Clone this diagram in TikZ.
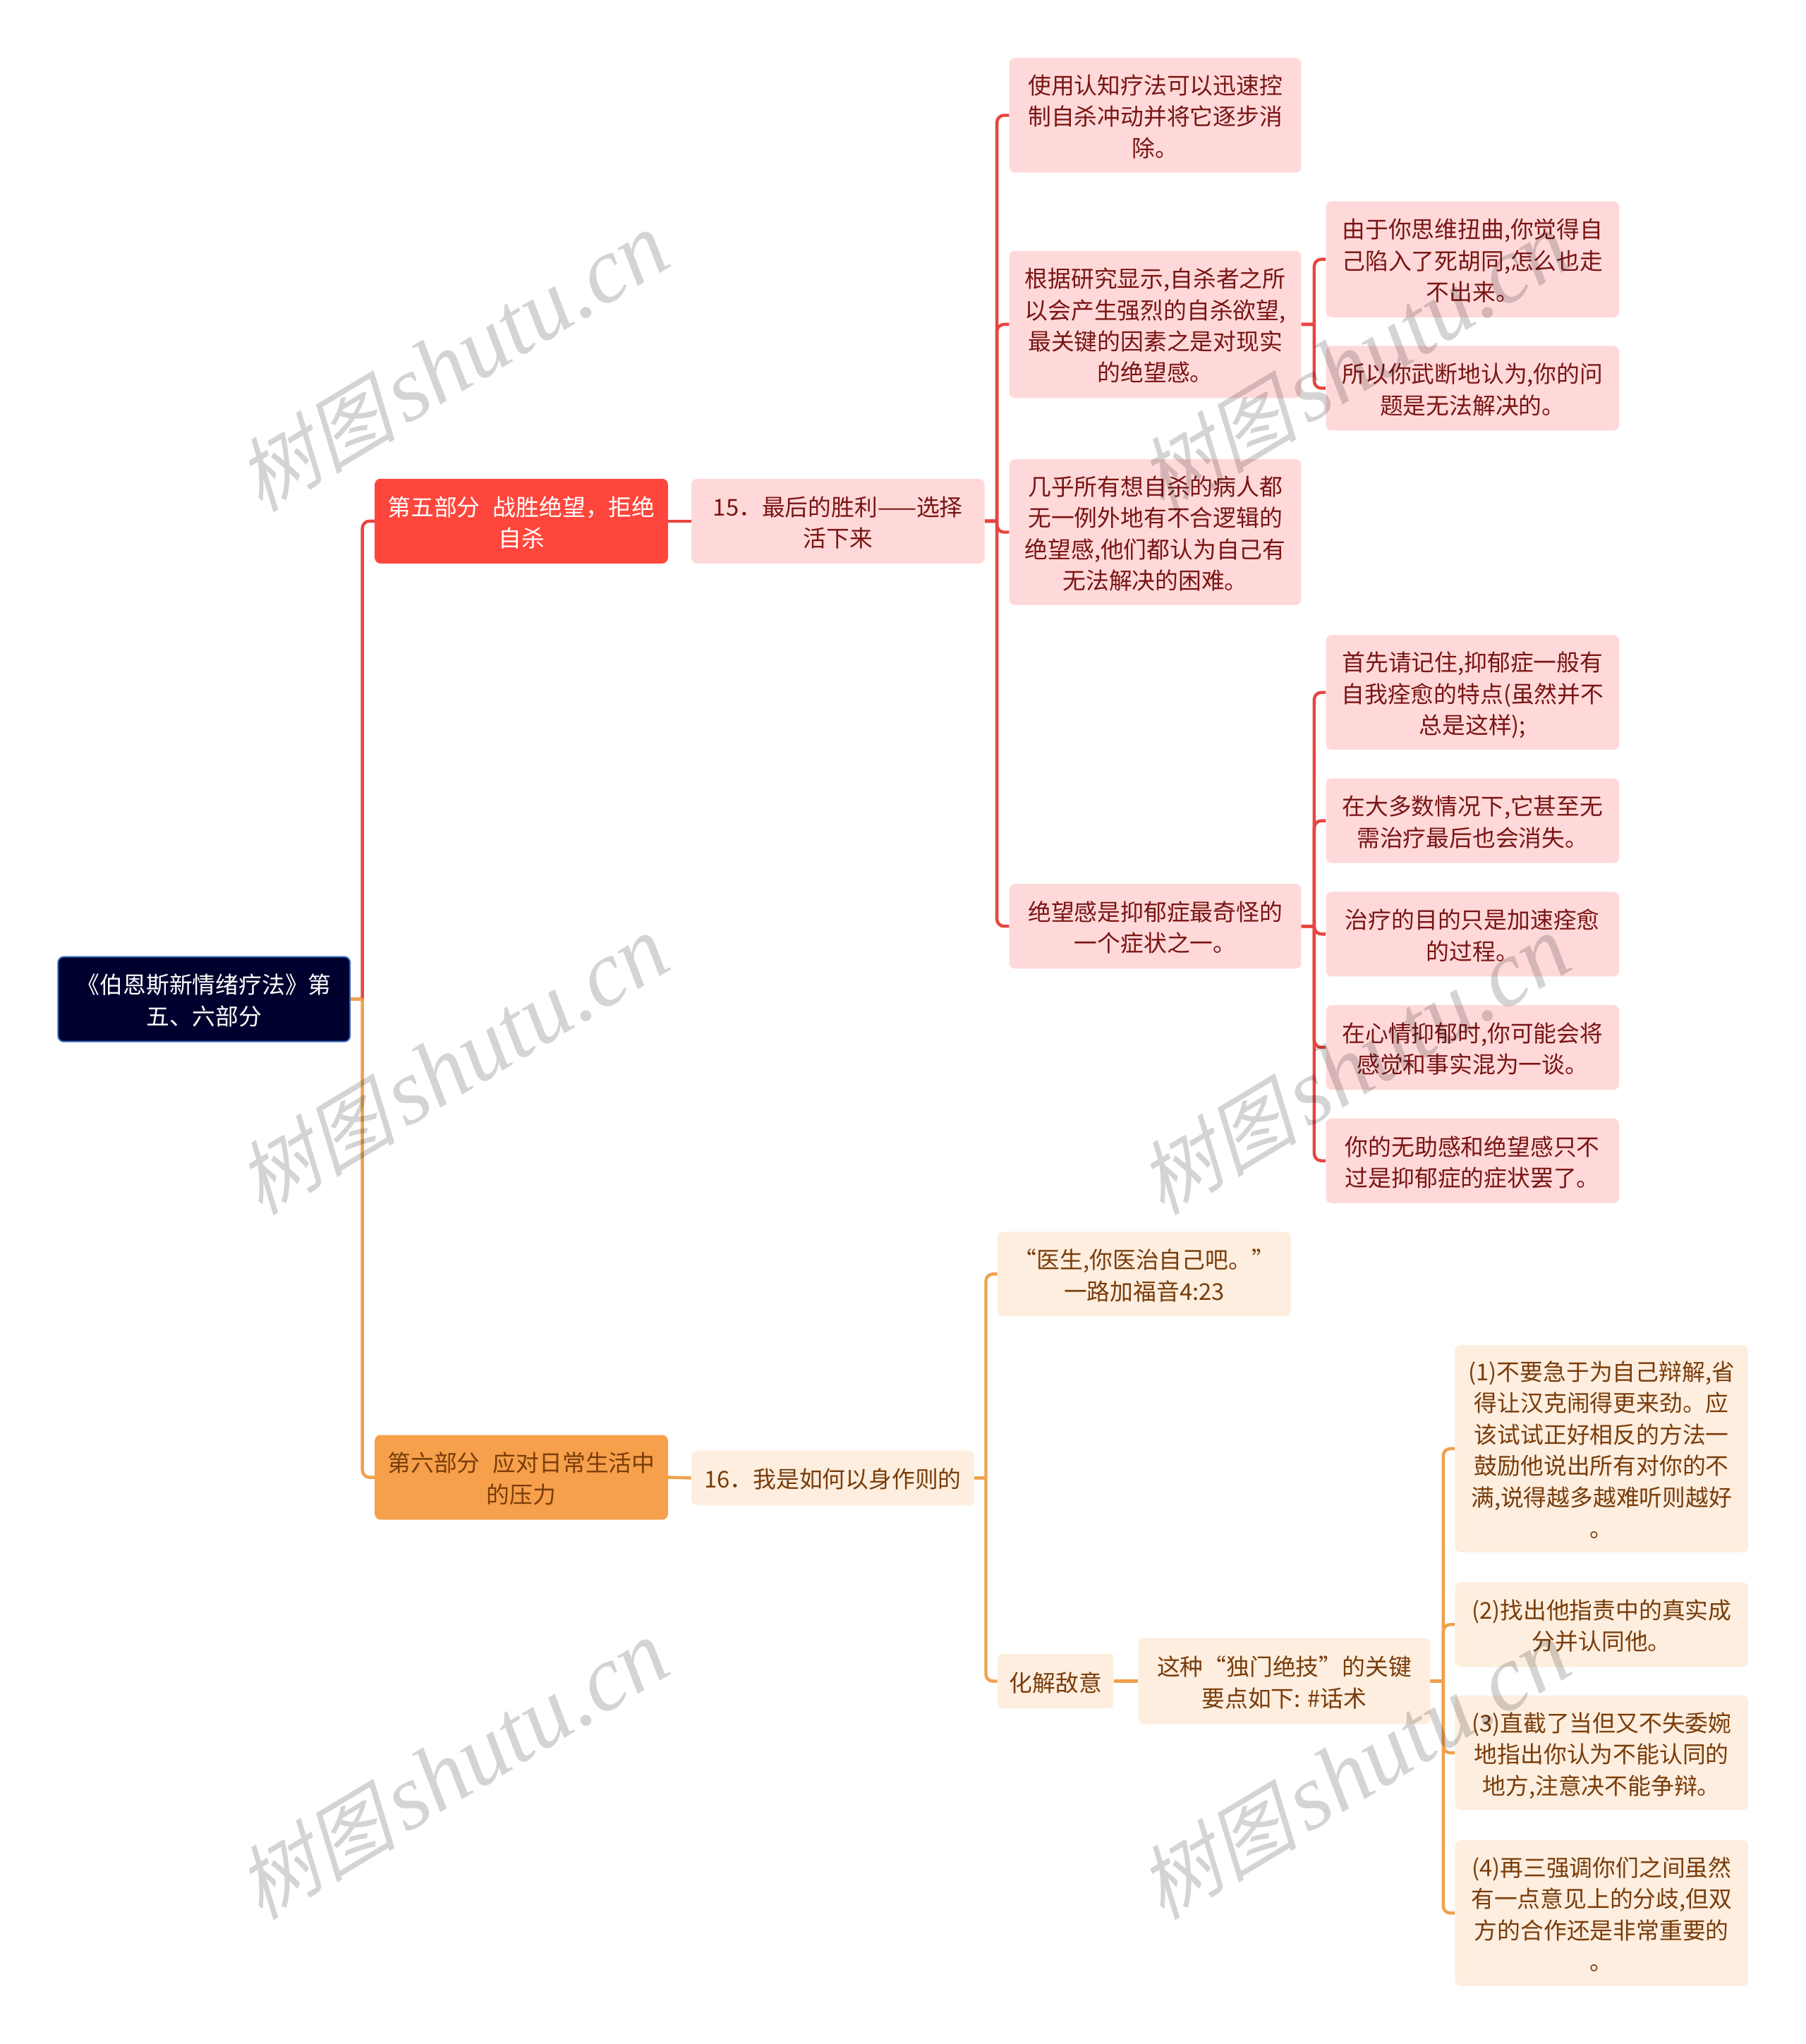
\documentclass[tikz,border=0pt]{standalone}
\usepackage{fontspec}
\setmainfont{Noto Sans CJK SC}
\newfontfamily\wmfont[FakeSlant=0.25]{Noto Sans CJK SC}
\newfontfamily\wmlatin{Liberation Serif}
\usetikzlibrary{calc}
\definecolor{lred}{HTML}{E8453F}
\definecolor{lorg}{HTML}{F0A04E}
\definecolor{fred}{HTML}{FFD9D9}
\definecolor{ford}{HTML}{FDEEDF}
\definecolor{tred}{HTML}{7A1414}
\definecolor{tord}{HTML}{7A3C0A}
\definecolor{froot}{HTML}{00002E}
\definecolor{droot}{HTML}{2F66B8}
\definecolor{fhr}{HTML}{FF463C}
\definecolor{fho}{HTML}{F6A04B}
\tikzset{
  x=0.92355pt,y=-0.92355pt,
  boxbase/.style={rounded corners=4pt,inner sep=0pt,font=\fontsize{16.4pt}{22.2pt}\selectfont},
  rootbox/.style={boxbase,fill=froot,draw=droot,line width=1pt,text=white},
  redhead/.style={boxbase,fill=fhr,text=white},
  orghead/.style={boxbase,fill=fho,text=tord},
  redbox/.style={boxbase,fill=fred,text=tred},
  orgbox/.style={boxbase,fill=ford,text=tord},
  redline/.style={draw=lred,line width=2.2pt,rounded corners=5pt},
  orgline/.style={draw=lorg,line width=2.2pt,rounded corners=5pt},
  watermark/.style={text=black,opacity=0.17,rotate=31,inner sep=0pt},
}
\newcommand\bx[7]{\node[#6,minimum width={(#3-#2)*0.92355pt},minimum height={(#5-#4)*0.92355pt}] (#1) at ({(#2+#3)/2},{(#4+#5)/2}) {\begin{tabular}{@{}c@{}}\noalign{\vskip 5.6pt}#7\end{tabular}};}
\begin{document}
\begin{tikzpicture}
\useasboundingbox (0,0) rectangle (1386,1569);
\fill[white] (0,0) rectangle (1386,1569);
\begin{scope}[shift={(0.6,0.5)}]
\bx{root}{44}{268}{734}{799}{rootbox}{《伯恩斯新情绪疗法》第\\五、六部分}
\bx{p5}{287}{512}{367}{432}{redhead}{第五部分\hspace{9.2pt}战胜绝望，拒绝\\自杀}
\bx{p6}{287}{512}{1101}{1166}{orghead}{第六部分\hspace{9.2pt}应对日常生活中\\的压力}
\bx{n15}{530}{755}{367}{432}{redbox}{15．最后的胜利——选择\\活下来}
\bx{n16}{530}{747}{1113}{1155}{orgbox}{16．我是如何以身作则的}
\bx{a1}{774}{998}{44}{132}{redbox}{使用认知疗法可以迅速控\\制自杀冲动并将它逐步消\\除。}
\bx{a2}{774}{998}{192}{305}{redbox}{根据研究显示,自杀者之所\\以会产生强烈的自杀欲望,\\最关键的因素之是对现实\\的绝望感。}
\bx{a3}{774}{998}{352}{464}{redbox}{几乎所有想自杀的病人都\\无一例外地有不合逻辑的\\绝望感,他们都认为自己有\\无法解决的困难。}
\bx{a4}{774}{998}{678}{743}{redbox}{绝望感是抑郁症最奇怪的\\一个症状之一。}
\bx{b1}{1017}{1242}{154}{243}{redbox}{由于你思维扭曲,你觉得自\\己陷入了死胡同,怎么也走\\不出来。}
\bx{b2}{1017}{1242}{265}{330}{redbox}{所以你武断地认为,你的问\\题是无法解决的。}
\bx{c1}{1017}{1242}{487}{575}{redbox}{首先请记住,抑郁症一般有\\自我痊愈的特点(虽然并不\\总是这样);}
\bx{c2}{1017}{1242}{597}{662}{redbox}{在大多数情况下,它甚至无\\需治疗最后也会消失。}
\bx{c3}{1017}{1242}{684}{749}{redbox}{治疗的目的只是加速痊愈\\的过程。}
\bx{c4}{1017}{1242}{771}{836}{redbox}{在心情抑郁时,你可能会将\\感觉和事实混为一谈。}
\bx{c5}{1017}{1242}{858}{923}{redbox}{你的无助感和绝望感只不\\过是抑郁症的症状罢了。}
\bx{d1}{765}{990}{945}{1010}{orgbox}{“医生,你医治自己吧。”\\一路加福音4:23}
\bx{d2}{765}{854}{1269}{1311}{orgbox}{化解敌意}
\bx{d3}{873}{1097}{1257}{1323}{orgbox}{这种“独门绝技”的关键\\要点如下: \#话术}
\bx{e1}{1116}{1341}{1032}{1191}{orgbox}{(1)不要急于为自己辩解,省\\得让汉克闹得更来劲。应\\该试试正好相反的方法一\\鼓励他说出所有对你的不\\满,说得越多越难听则越好\\。}
\bx{e2}{1116}{1341}{1214}{1279}{orgbox}{(2)找出他指责中的真实成\\分并认同他。}
\bx{e3}{1116}{1341}{1301}{1389}{orgbox}{(3)直截了当但又不失委婉\\地指出你认为不能认同的\\地方,注意决不能争辩。}
\bx{e4}{1116}{1341}{1412}{1524}{orgbox}{(4)再三强调你们之间虽然\\有一点意见上的分歧,但双\\方的合作还是非常重要的\\。}
% trunk positions
\coordinate (v0) at (277.5,0);
\coordinate (v1) at (764.5,0);
\coordinate (v2) at (1008,0);
\coordinate (v3) at (756,0);
\coordinate (v4) at (1107,0);
% connectors: a straight stub into the trunk, then a rounded branch out of it
\draw[redline] (root.east) -- (root.east -| v0) (root.east -| v0) |- (p5.west);
\draw[redline] (p5.east) -- (n15.west);
\foreach \t in {a1,a2,a3,a4}{\draw[redline] (n15.east) -- (n15.east -| v1) (n15.east -| v1) |- (\t.west);}
\foreach \t in {b1,b2}{\draw[redline] (a2.east) -- (a2.east -| v2) (a2.east -| v2) |- (\t.west);}
\foreach \t in {c1,c2,c3,c4,c5}{\draw[redline] (a4.east) -- (a4.east -| v2) (a4.east -| v2) |- (\t.west);}
\draw[orgline] (root.east) -- (root.east -| v0) (root.east -| v0) |- (p6.west);
\draw[orgline] (p6.east) -- (n16.west);
\foreach \t in {d1,d2}{\draw[orgline] (n16.east) -- (n16.east -| v3) (n16.east -| v3) |- (\t.west);}
\draw[orgline] (d2.east) -- (d3.west);
\foreach \t in {e1,e2,e3,e4}{\draw[orgline] (d3.east) -- (d3.east -| v4) (d3.east -| v4) |- (\t.west);}
\end{scope}
% watermarks
\foreach \i/\px/\py in {w1/347/278,w2/347/818,w3/347/1359,w4/1039/278,w5/1039/818,w6/1039/1359}{
  \node[watermark] (\i) at (\px,\py) {{\wmfont\fontsize{57pt}{60pt}\selectfont 树图}\hspace{7pt}{\wmlatin\itshape\fontsize{66pt}{70pt}\selectfont shutu.cn}};
}
\end{tikzpicture}
\end{document}
